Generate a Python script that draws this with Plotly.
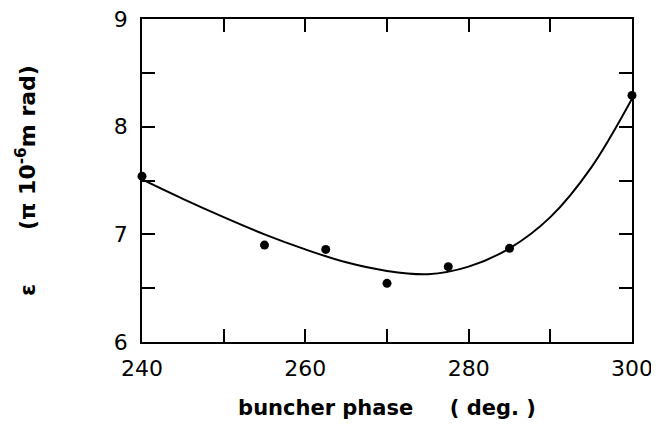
import plotly.graph_objects as go

# measured points
phase = [240, 255, 262.5, 270, 277.5, 285, 300]
emittance = [7.54, 6.90, 6.86, 6.545, 6.70, 6.87, 8.29]

# fitted curve
curve_phase = [240, 245, 250, 255, 260, 265, 270, 275, 280, 285, 290, 295, 300]
curve_value = [7.51, 7.33, 7.16, 7.00, 6.86, 6.74, 6.66, 6.63, 6.70, 6.87, 7.16, 7.62, 8.26]

fig = go.Figure()
fig.add_trace(go.Scatter(x=curve_phase, y=curve_value, mode="lines",
                         line=dict(color="black", width=2, shape="spline", smoothing=1.0),
                         hoverinfo="skip", showlegend=False))
fig.add_trace(go.Scatter(x=phase, y=emittance, mode="markers",
                         marker=dict(color="black", size=9),
                         showlegend=False, cliponaxis=False))

font_family = "DejaVu Sans"
# page body adds an 8px offset, so the figure is sized to compensate
fig.update_layout(
    width=651, height=421,
    margin=dict(l=134, r=27, t=11, b=87),
    paper_bgcolor="white", plot_bgcolor="white",
    font=dict(family=font_family, color="black", size=20),
)
fig.update_xaxes(
    range=[240, 300], tick0=240, dtick=20, automargin=False,
    ticks="inside", ticklen=13, tickwidth=1.5, tickcolor="black",
    minor=dict(ticks="inside", ticklen=13, tickwidth=1.5, tickcolor="black", tick0=240, dtick=10, showgrid=False),
    showline=True, linecolor="black", linewidth=1.5, mirror="ticks",
    showgrid=False, zeroline=False, ticklabelstandoff=6, ticklabeloverflow="allow",
    tickfont=dict(size=22, family=font_family),
    title=dict(text="<b>buncher phase&nbsp;&nbsp;&nbsp;&nbsp;&nbsp;( deg. )</b>",
               font=dict(size=21, family=font_family), standoff=20),
)
fig.update_yaxes(
    range=[6, 9], tick0=6, dtick=1, automargin=False,
    ticks="inside", ticklen=13, tickwidth=1.5, tickcolor="black",
    minor=dict(ticks="inside", ticklen=13, tickwidth=1.5, tickcolor="black", tick0=6, dtick=0.5, showgrid=False),
    showline=True, linecolor="black", linewidth=1.5, mirror="ticks",
    showgrid=False, zeroline=False, ticklabelstandoff=8, ticklabeloverflow="allow",
    tickfont=dict(size=22, family=font_family),
    title=dict(text="<b>ε&nbsp;&nbsp;&nbsp;&nbsp;&nbsp;&nbsp;&nbsp;(π 10<sup>-6</sup>m rad)</b>",
               font=dict(size=22, family=font_family), standoff=72),
)
fig.write_html("out.html")
